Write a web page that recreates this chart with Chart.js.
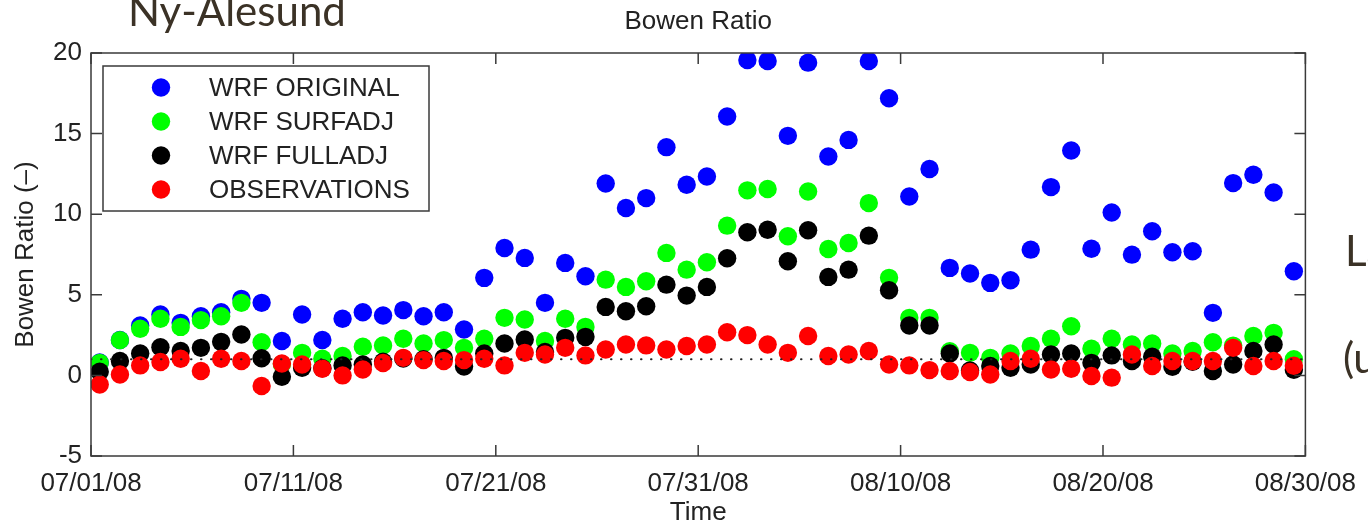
<!DOCTYPE html>
<html>
<head>
<meta charset="utf-8">
<script src="https://cdn.jsdelivr.net/npm/chart.js@4.4.1/dist/chart.umd.min.js"></script>
<style>
html,body{margin:0;padding:0;background:#fff;overflow:hidden}
#wrap{position:relative;width:1368px;height:528px;background:#fff}
#c{position:absolute;left:0;top:0}
.note{position:absolute;font-family:Lato,'Open Sans',sans-serif;font-size:42px;color:#3b3226;line-height:1;white-space:nowrap}
</style>
</head>
<body>
<div id="wrap">
<canvas id="c" width="1368" height="528"></canvas>
<div class="note" style="left:128px;top:-11px">Ny-Alesund</div>
<div class="note" style="left:1345px;top:229px">La</div>
<div class="note" style="left:1343px;top:336px">(u</div>
</div>
<script>
// ---- data ----
const dates = ['07/01','07/02','07/03','07/04','07/05','07/06','07/07','07/08','07/09','07/10',
               '07/11','07/12','07/13','07/14','07/15','07/16','07/17','07/18','07/19','07/20',
               '07/21','07/22','07/23','07/24','07/25','07/26','07/27','07/28','07/29','07/30',
               '07/31','08/01','08/02','08/03','08/04','08/05','08/06','08/07','08/08','08/09',
               '08/10','08/11','08/12','08/13','08/14','08/15','08/16','08/17','08/18','08/19',
               '08/20','08/21','08/22','08/23','08/24','08/25','08/26','08/27','08/28','08/29'];

const wrfOriginal = [0.8,2.2,3.1,3.78,3.26,3.67,3.92,4.75,4.5,2.13,
                     3.78,2.2,3.51,3.92,3.72,4.05,3.67,3.92,2.85,6.05,
                     7.9,7.29,4.5,6.98,6.15,11.9,10.38,11.0,14.16,11.83,
                     12.34,16.06,19.57,19.5,14.86,19.4,13.58,14.61,19.5,17.19,
                     11.1,12.8,6.67,6.32,5.74,5.9,7.8,11.68,13.95,7.86,
                     10.11,7.49,8.94,7.64,7.7,3.88,11.93,12.45,11.35,6.46];

const wrfSurfadj = [0.78,2.19,2.89,3.51,3.01,3.43,3.67,4.5,2.06,0.7,
                    1.4,1.03,1.2,1.78,1.86,2.27,1.98,2.19,1.71,2.27,
                    3.57,3.47,2.13,3.51,3.01,5.94,5.49,5.84,7.6,6.56,
                    7.02,9.29,11.48,11.56,8.63,11.41,7.84,8.21,10.69,6.05,
                    3.57,3.57,1.5,1.4,1.09,1.36,1.82,2.27,3.05,1.65,
                    2.27,1.92,1.98,1.36,1.51,2.06,1.85,2.44,2.64,1.0];

const wrfFulladj = [0.23,0.89,1.36,1.75,1.51,1.71,2.08,2.54,1.06,-0.08,
                    0.47,0.45,0.62,0.68,0.85,1.05,1.0,1.09,0.55,1.36,
                    1.98,2.23,1.45,2.33,2.39,4.25,3.98,4.29,5.63,4.95,
                    5.49,7.27,8.88,9.04,7.08,9.0,6.11,6.56,8.67,5.28,
                    3.1,3.1,1.36,0.3,0.58,0.47,0.68,1.3,1.36,0.78,
                    1.24,0.89,1.16,0.54,0.85,0.27,0.68,1.51,1.92,0.35];

const observations = [-0.56,0.06,0.62,0.83,1.03,0.27,1.03,0.89,-0.66,0.74,
                      0.68,0.41,0.0,0.37,0.77,1.09,0.95,0.89,0.95,1.03,
                      0.62,1.40,1.3,1.71,1.24,1.61,1.92,1.86,1.61,1.82,
                      1.92,2.68,2.5,1.92,1.4,2.44,1.2,1.3,1.51,0.68,
                      0.62,0.33,0.27,0.21,0.06,0.89,1.03,0.37,0.41,-0.04,
                      -0.14,1.3,0.58,0.89,0.89,0.89,1.71,0.58,0.89,0.6];

const seriesLabels = ['WRF ORIGINAL','WRF SURFADJ','WRF FULLADJ','OBSERVATIONS'];
const seriesColors = ['#0000ff','#00ff00','#000000','#ff0000'];

const xTickLabels = ['07/01/08','07/11/08','07/21/08','07/31/08','08/10/08','08/20/08','08/30/08'];
const yTickValues = [-5,0,5,10,15,20];
const refLine = 1;          // dotted reference line (Bowen ratio = 1)
const sampleHour = 0.43;    // daily values stamped slightly before noon

// ---- helpers ----
function dayOffset(s){ // days since 07/01/08
  const [m,d] = s.split('/').map(Number);
  return (m === 7 ? 0 : 31) + d - 1;
}
const xTickValues = xTickLabels.map(s => dayOffset(s.slice(0,5)));
const toPts = arr => arr.map((v,i) => ({x: dayOffset(dates[i]) + sampleHour, y: v}));

Chart.defaults.font.family = "'Liberation Sans', Arial, Helvetica, sans-serif";
Chart.defaults.color = '#222';

const FONT = {size: 26, weight: 'normal'};
const MARK_R = 9.2;

const framePlugin = {
  id: 'frame',
  afterDatasetsDraw(chart) {
    const {ctx, chartArea: a, scales} = chart;
    const tl = 11;
    ctx.save();
    ctx.strokeStyle = '#3a3a3a';
    ctx.lineWidth = 1.5;
    ctx.strokeRect(a.left, a.top, a.right - a.left, a.bottom - a.top);
    ctx.beginPath();
    scales.x.ticks.forEach(t => {
      const px = scales.x.getPixelForValue(t.value);
      ctx.moveTo(px, a.bottom); ctx.lineTo(px, a.bottom - tl);
      ctx.moveTo(px, a.top); ctx.lineTo(px, a.top + tl);
    });
    scales.y.ticks.forEach(t => {
      const py = scales.y.getPixelForValue(t.value);
      ctx.moveTo(a.left, py); ctx.lineTo(a.left + tl, py);
      ctx.moveTo(a.right, py); ctx.lineTo(a.right - tl, py);
    });
    ctx.stroke();
    ctx.restore();
  }
};

const legendPlugin = {
  id: 'boxLegend',
  afterDraw(chart) {
    const {ctx, chartArea: a} = chart;
    const bx = a.left + 12, by = a.top + 13, bw = 326, bh = 145;
    ctx.save();
    ctx.fillStyle = '#fff';
    ctx.fillRect(bx, by, bw, bh);
    ctx.strokeStyle = '#3a3a3a';
    ctx.lineWidth = 1.5;
    ctx.strokeRect(bx, by, bw, bh);
    const items = chart.data.datasets.filter(d => !d.isRef);
    items.forEach((d, i) => {
      const cy = by + 21.5 + i * 34;
      ctx.fillStyle = d.backgroundColor;
      ctx.beginPath();
      ctx.arc(bx + 58, cy, MARK_R, 0, Math.PI * 2);
      ctx.fill();
      ctx.fillStyle = '#222';
      ctx.font = "26px 'Liberation Sans', Arial, sans-serif";
      ctx.textBaseline = 'middle';
      ctx.textAlign = 'left';
      ctx.fillText(d.label, bx + 106, cy + 1);
    });
    ctx.restore();
  }
};

const datasets = [wrfOriginal, wrfSurfadj, wrfFulladj, observations].map((arr, i) => ({
  label: seriesLabels[i],
  data: toPts(arr),
  backgroundColor: seriesColors[i],
  borderColor: seriesColors[i],
  borderWidth: 0,
  pointRadius: MARK_R,
  pointHoverRadius: MARK_R,
  order: 4 - i
}));
datasets.push({
  type: 'line',
  label: 'ref',
  isRef: true,
  data: [{x: xTickValues[0], y: refLine}, {x: xTickValues[xTickValues.length - 1], y: refLine}],
  borderColor: '#222',
  borderWidth: 2,
  borderDash: [0.5, 9.5],
  borderCapStyle: 'round',
  pointRadius: 0,
  showLine: true,
  fill: false,
  order: 0
});

new Chart(document.getElementById('c'), {
  type: 'scatter',
  data: {datasets},
  options: {
    responsive: false,
    animation: false,
    devicePixelRatio: 1,
    layout: {padding: {left: 0, right: 56, top: 0, bottom: 0}},
    plugins: {
      legend: {display: false},
      tooltip: {enabled: false},
      title: {
        display: true,
        fullSize: false,
        text: 'Bowen Ratio',
        font: FONT,
        color: '#222',
        padding: {top: 6, bottom: 15.8}
      }
    },
    scales: {
      x: {
        type: 'linear',
        min: xTickValues[0],
        max: xTickValues[xTickValues.length - 1],
        afterBuildTicks: s => { s.ticks = xTickValues.map(v => ({value: v})); },
        afterFit: s => { s.height = 72; },
        grid: {display: false, drawTicks: false},
        border: {display: false},
        ticks: {
          autoSkip: false, maxRotation: 0, minRotation: 0, padding: 12,
          font: FONT, color: '#222',
          callback: (v, i) => xTickLabels[i]
        },
        title: {display: true, text: 'Time', font: FONT, color: '#222', padding: {top: 0, bottom: 0}}
      },
      y: {
        type: 'linear',
        min: yTickValues[0],
        max: yTickValues[yTickValues.length - 1],
        afterBuildTicks: s => { s.ticks = yTickValues.map(v => ({value: v})); },
        afterFit: s => { s.width = 91; },
        grid: {display: false, drawTicks: false},
        border: {display: false},
        ticks: {padding: 9, font: FONT, color: '#222', callback: v => String(v)},
        title: {display: true, text: 'Bowen Ratio (–)', font: FONT, color: '#222', padding: {top: 10, bottom: 0}}
      }
    }
  },
  plugins: [framePlugin, legendPlugin]
});
</script>
</body>
</html>
